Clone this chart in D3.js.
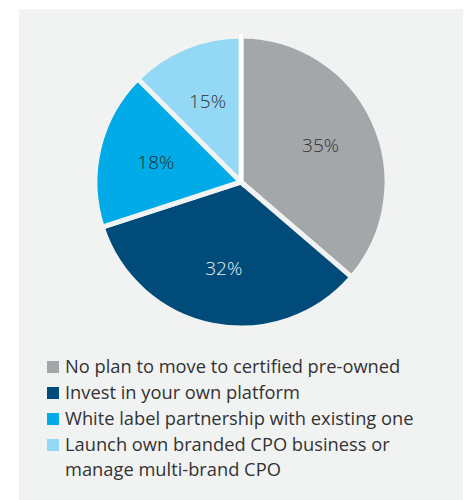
<!DOCTYPE html>
<html><head><meta charset="utf-8">
<script src="https://cdn.jsdelivr.net/npm/d3@7"></script>
<style>html,body{margin:0;padding:0;background:#fff;}svg{display:block;}</style>
</head><body>
<svg id="chart" width="468" height="500"></svg>
<script>
// Data
const categories = [
  "No plan to move to certified pre-owned",
  "Invest in your own platform",
  "White label partnership with existing one",
  "Launch own branded CPO business or manage multi-brand CPO"
];
const labels = ["35%", "32%", "18%", "15%"];
// slice shares as drawn in the picture
const shares = [36.3, 33.7, 17.5, 12.5];
const legendLines = [
  ["No plan to move to certified pre-owned"],
  ["Invest in your own platform"],
  ["White label partnership with existing one"],
  ["Launch own branded CPO business or", "manage multi-brand CPO"]
];
const colors = ["#a4a7aa", "#014b7b", "#00abe7", "#93d8f5"];
const labelColors = ["#333333", "#e8eef3", "#2b2b2b", "#333333"];

const svg = d3.select("#chart");
const bg = "#f1f2f2";
svg.append("rect").attr("x", 19).attr("y", 9).attr("width", 444).attr("height", 491).attr("fill", bg);

const cx = 241, cy = 182, R = 146;
const g = svg.append("g").attr("transform", `translate(${cx},${cy})`);
const pie = d3.pie().sort(null).value(d => d)(shares);
const arc = d3.arc().innerRadius(0).outerRadius(R);
const labelArc = d3.arc().innerRadius(R * 0.6).outerRadius(R * 0.6);

g.selectAll("path.slice").data(pie).join("path")
  .attr("class", "slice")
  .attr("d", arc)
  .attr("fill", (d, i) => colors[i])
  .attr("stroke", bg).attr("stroke-width", 5).attr("stroke-linejoin", "miter");

// white divider along the start of the first slice
g.append("line").attr("x1", 0).attr("y1", 0).attr("x2", 0).attr("y2", -R - 2)
  .attr("stroke", "#fff").attr("stroke-width", 4);

g.selectAll("text.lbl").data(pie).join("text")
  .attr("class", "lbl")
  .attr("transform", d => `translate(${labelArc.centroid(d)})`)
  .attr("text-anchor", "middle")
  .attr("dominant-baseline", "central")
  .attr("font-family", "'Open Sans', sans-serif")
  .attr("font-weight", 300)
  .attr("font-size", 19)
  .attr("fill", (d, i) => labelColors[i])
  .text((d, i) => labels[i]);

// Legend
const lg = svg.append("g");
let y = 373;
legendLines.forEach((lines, i) => {
  lg.append("rect").attr("x", 47).attr("y", y - 12).attr("width", 12).attr("height", 12).attr("fill", colors[i]);
  lines.forEach((t, j) => {
    lg.append("text").attr("x", 65).attr("y", y)
      .attr("font-family", "'Open Sans', sans-serif")
      .attr("font-size", 18.3).attr("fill", "#333")
      .text(t);
    y += j < lines.length - 1 ? 24.5 : 26;
  });
});
</script>
</body></html>
